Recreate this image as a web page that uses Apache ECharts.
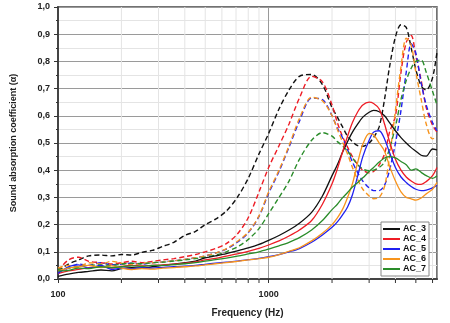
<!DOCTYPE html>
<html>
<head>
<meta charset="utf-8">
<script src="https://cdn.jsdelivr.net/npm/echarts@6/dist/echarts.min.js"></script>
<style>
  html, body { margin: 0; padding: 0; background: #fff; }
  #chart { width: 450px; height: 323px; }
</style>
</head>
<body>
<div id="chart"></div>
<script>
// frequencies (Hz), 1/6 octave up to 1800, 1/12 octave above
const freq = [100,112,125,140,160,180,200,224,250,280,
  315,355,400,450,500,560,630,710,800,900,
  1000,1120,1250,1400,1600,1800,
  2000,2120,2240,2370,2500,2650,2800,3000,3150,3350,
  3550,3750,4000,4250,4500,4750,5000,5300,5600,6000,
  6300];

// solid curves
const ac3 = [0.010,0.018,0.024,0.028,0.033,0.030,0.038,0.042,0.040,0.045,
  0.050,0.055,0.060,0.066,0.078,0.085,0.093,0.103,0.114,0.127,
  0.142,0.160,0.180,0.205,0.245,0.305,
  0.380,0.420,0.465,0.505,0.540,0.570,0.595,0.613,0.620,0.615,
  0.600,0.575,0.545,0.520,0.500,0.483,0.470,0.455,0.452,0.478,
  0.475];
const ac4 = [0.020,0.030,0.035,0.042,0.045,0.040,0.046,0.050,0.048,0.050,
  0.052,0.055,0.058,0.063,0.070,0.076,0.084,0.092,0.102,0.113,
  0.125,0.140,0.158,0.180,0.215,0.275,
  0.350,0.405,0.465,0.525,0.575,0.615,0.640,0.650,0.645,0.625,
  0.570,0.505,0.440,0.400,0.375,0.360,0.350,0.348,0.358,0.380,
  0.410];
const ac5 = [0.020,0.045,0.052,0.040,0.050,0.035,0.040,0.038,0.042,0.040,
  0.043,0.045,0.047,0.050,0.054,0.058,0.062,0.066,0.071,0.076,
  0.082,0.090,0.100,0.112,0.135,0.162,
  0.190,0.210,0.235,0.265,0.310,0.380,0.450,0.510,0.540,0.545,
  0.515,0.465,0.410,0.375,0.355,0.340,0.330,0.325,0.327,0.335,
  0.345];
const ac6 = [0.030,0.040,0.045,0.050,0.042,0.048,0.040,0.035,0.038,0.036,
  0.040,0.042,0.045,0.048,0.052,0.056,0.060,0.065,0.070,0.075,
  0.080,0.090,0.102,0.115,0.140,0.168,
  0.200,0.225,0.255,0.300,0.350,0.430,0.495,0.535,0.530,0.500,
  0.470,0.415,0.360,0.320,0.300,0.295,0.290,0.298,0.313,0.330,
  0.355];
const ac7 = [0.030,0.032,0.040,0.038,0.045,0.042,0.045,0.048,0.046,0.050,
  0.050,0.053,0.056,0.060,0.066,0.071,0.077,0.084,0.092,0.100,
  0.110,0.122,0.135,0.152,0.180,0.215,
  0.255,0.275,0.298,0.318,0.338,0.355,0.372,0.395,0.410,0.430,
  0.445,0.450,0.445,0.432,0.420,0.400,0.405,0.392,0.380,0.370,
  0.380];

// dashed curves
const ac3d = [0.030,0.055,0.070,0.085,0.088,0.085,0.090,0.088,0.098,0.105,
  0.120,0.135,0.160,0.175,0.200,0.220,0.250,0.300,0.370,0.460,
  0.535,0.625,0.695,0.745,0.752,0.715,
  0.630,0.595,0.560,0.525,0.505,0.490,0.488,0.500,0.520,0.560,
  0.660,0.780,0.890,0.935,0.925,0.850,0.770,0.710,0.695,0.740,
  0.835];
const ac4d = [0.030,0.070,0.080,0.065,0.060,0.055,0.060,0.065,0.060,0.065,
  0.070,0.075,0.082,0.090,0.100,0.112,0.130,0.165,0.225,0.320,
  0.410,0.490,0.570,0.665,0.745,0.725,
  0.640,0.575,0.525,0.485,0.450,0.420,0.400,0.390,0.395,0.420,
  0.460,0.540,0.600,0.760,0.870,0.895,0.820,0.730,0.630,0.565,
  0.540];
const ac5d = [0.025,0.040,0.055,0.050,0.060,0.052,0.055,0.058,0.055,0.060,
  0.063,0.067,0.072,0.078,0.085,0.095,0.110,0.135,0.170,0.230,
  0.315,0.395,0.485,0.580,0.665,0.660,
  0.600,0.555,0.520,0.475,0.430,0.390,0.360,0.335,0.325,0.325,
  0.345,0.400,0.500,0.620,0.760,0.865,0.830,0.720,0.640,0.575,
  0.545];
const ac6d = [0.040,0.050,0.045,0.060,0.055,0.065,0.058,0.052,0.058,0.060,
  0.063,0.067,0.072,0.078,0.085,0.095,0.112,0.138,0.172,0.232,
  0.320,0.400,0.490,0.590,0.668,0.655,
  0.600,0.550,0.505,0.460,0.410,0.365,0.330,0.305,0.295,0.300,
  0.340,0.450,0.620,0.780,0.885,0.860,0.760,0.660,0.570,0.515,
  0.525];
const ac7d = [0.035,0.040,0.045,0.050,0.052,0.050,0.055,0.058,0.056,0.060,
  0.062,0.066,0.070,0.075,0.080,0.088,0.100,0.118,0.145,0.185,
  0.240,0.300,0.360,0.440,0.510,0.538,
  0.525,0.505,0.490,0.470,0.445,0.420,0.405,0.398,0.400,0.410,
  0.430,0.480,0.560,0.660,0.730,0.775,0.800,0.805,0.760,0.690,
  0.640];

const names = ['AC_3', 'AC_4', 'AC_5', 'AC_6', 'AC_7'];
const colors = ['#111111', '#ee1c25', '#2020f0', '#f7941d', '#2a8c2a'];
const solid = [ac3, ac4, ac5, ac6, ac7];
const dashed = [ac3d, ac4d, ac5d, ac6d, ac7d];

// light vertical grid lines / ticks between decades
const minorFreqs = [200,300,400,500,600,700,800,900,2000,3000,4000,5000,6000];

const pairs = vals => freq.map((f, i) => [f, vals[i]]);

let series = [];
series.push({
  type: 'custom',
  silent: true,
  z: 1,
  data: minorFreqs.map(f => [f, 0]),
  renderItem: function (params, api) {
    const b = api.coord([api.value(0), 0]);
    const t = api.coord([api.value(0), 1]);
    return {
      type: 'group',
      children: [
        { type: 'line', shape: { x1: b[0], y1: b[1], x2: t[0], y2: t[1] },
          style: { stroke: '#e4e4e4', lineWidth: 1 } },
        { type: 'line', shape: { x1: b[0], y1: b[1], x2: b[0], y2: b[1] + 4 },
          style: { stroke: '#333', lineWidth: 1 } }
      ]
    };
  }
});
dashed.forEach((vals, k) => {
  series.push({
    name: names[k] + ' d',
    type: 'line',
    data: pairs(vals),
    symbol: 'none',
    smooth: 0.3,
    z: 3,
    lineStyle: { color: colors[k], width: 1.4, type: [5, 3] }
  });
});
solid.forEach((vals, k) => {
  series.push({
    name: names[k],
    type: 'line',
    data: pairs(vals),
    symbol: 'none',
    smooth: 0.3,
    z: 4,
    itemStyle: { color: colors[k] },
    lineStyle: { color: colors[k], width: 1.3 }
  });
});

let myChart = echarts.init(document.getElementById('chart'));
myChart.setOption({
  animation: false,
  color: colors,
  grid: {
    left: 58, right: 13, top: 7, bottom: 37,
    show: true, borderColor: '#444', borderWidth: 1.5
  },
  legend: {
    data: names,
    orient: 'vertical',
    left: 381, top: 222,
    icon: 'rect',
    itemWidth: 17, itemHeight: 2, itemGap: 0,
    padding: [2, 3, 2, 2],
    backgroundColor: '#fff',
    borderColor: '#888', borderWidth: 1,
    textStyle: { fontSize: 9, lineHeight: 10, fontWeight: 'bold', color: '#111', fontFamily: 'Liberation Sans', padding: [0, 0, 0, -2] }
  },
  xAxis: {
    type: 'log',
    logBase: 10,
    min: 100, max: 6300,
    name: 'Frequency (Hz)',
    nameLocation: 'middle',
    nameGap: 29,
    nameTextStyle: { fontSize: 10, fontWeight: 'bold', color: '#222', fontFamily: 'Liberation Sans' },
    axisLine: { lineStyle: { color: '#444', width: 2 } },
    axisTick: { inside: false, length: 4, lineStyle: { color: '#333' } },
    axisLabel: {
      fontSize: 9, fontWeight: 'bold', color: '#222', fontFamily: 'Liberation Sans', margin: 11,
      showMaxLabel: false,
      formatter: function (v) {
        const r = Math.round(v);
        return (r === 100 || r === 1000) ? String(r) : '';
      }
    },
    splitLine: { show: true, lineStyle: { color: '#9a9a9a', width: 1 } }
  },
  yAxis: {
    type: 'value',
    min: 0, max: 1, interval: 0.1,
    name: 'Sound absorption coefficient (α)',
    nameLocation: 'middle',
    nameGap: 40,
    nameTextStyle: { fontSize: 9, fontWeight: 'bold', color: '#222', fontFamily: 'Liberation Sans' },
    axisLine: { show: true, lineStyle: { color: '#444', width: 2 } },
    axisTick: { show: true, length: 4, lineStyle: { color: '#333' } },
    minorTick: { show: true, splitNumber: 2, length: 2, lineStyle: { color: '#333' } },
    minorSplitLine: { show: true, lineStyle: { color: '#e4e4e4' } },
    splitLine: { show: true, lineStyle: { color: '#9a9a9a', width: 1 } },
    axisLabel: {
      fontSize: 9, fontWeight: 'bold', color: '#222', fontFamily: 'Liberation Sans', margin: 8,
      formatter: v => v.toFixed(1).replace('.', ',')
    }
  },
  series: series
});
window.onresize = function () {
  myChart.resize();
};
</script>
</body>
</html>
